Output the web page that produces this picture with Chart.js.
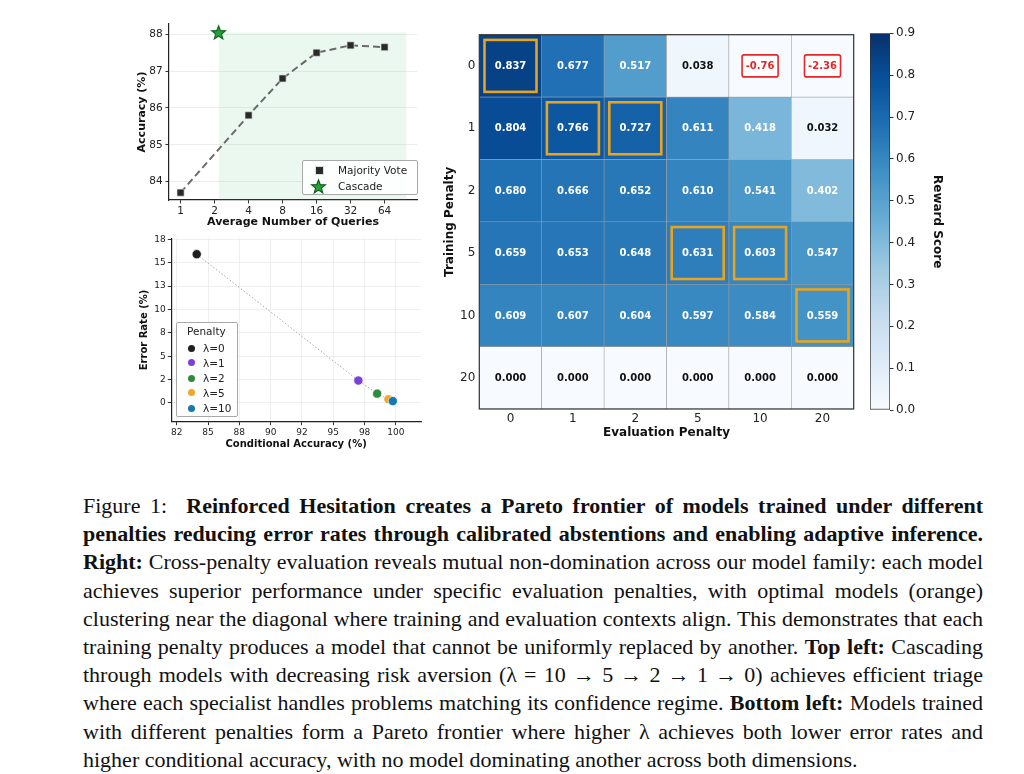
<!DOCTYPE html>
<html>
<head>
<meta charset="utf-8">
<script src="https://cdn.jsdelivr.net/npm/chart.js@4.4.1/dist/chart.umd.min.js"></script>
<style>
html,body{margin:0;padding:0;background:#fff;width:1024px;height:774px;overflow:hidden;}
.cv{position:absolute;display:block;}
.legend{position:absolute;background:rgba(255,255,255,0.9);border:1px solid #a9a9a9;border-radius:2px;box-sizing:border-box;font-family:"DejaVu Sans",sans-serif;color:#222;}
.legend .it{position:absolute;white-space:nowrap;line-height:1;}
.legend .mk{position:absolute;}
.caption{position:absolute;left:83px;top:492px;width:900px;font-family:"Liberation Serif","Times New Roman",serif;font-size:22px;line-height:28.2px;color:#111;}
.caption .ln{white-space:nowrap;height:28.2px;}
</style>
</head>
<body>
<canvas id="c1" class="cv" width="300" height="216" style="left:130px;top:14px;width:300px;height:216px;"></canvas>
<canvas id="c2" class="cv" width="300" height="225" style="left:130px;top:228px;width:300px;height:225px;"></canvas>
<canvas id="c3" class="cv" width="425" height="425" style="left:440px;top:20px;width:425px;height:425px;"></canvas>
<canvas id="c4" class="cv" width="100" height="400" style="left:860px;top:23px;width:100px;height:400px;"></canvas>

<div class="legend" id="lg1" style="left:302px;top:160px;width:116px;height:35px;">
  <div class="mk" style="left:12px;top:5px;width:7px;height:7px;background:#2a2a2a;border:0.5px solid #ddd;"></div>
  <div class="it" style="left:35px;top:3.5px;font-size:10.5px;">Majority Vote</div>
  <div class="mk" id="lgstar" style="left:7px;top:17px;"></div>
  <div class="it" style="left:35px;top:19.5px;font-size:10.5px;">Cascade</div>
</div>

<div class="legend" id="lg2" style="left:176px;top:322px;width:62px;height:95px;">
  <div class="it" style="left:10px;top:3px;font-size:10.5px;">Penalty</div>
  <div class="mk" style="left:11px;top:21.5px;width:7px;height:7px;border-radius:50%;background:#1f1f1f;"></div>
  <div class="it" style="left:26px;top:20px;font-size:10.5px;">λ=0</div>
  <div class="mk" style="left:11px;top:36px;width:7px;height:7px;border-radius:50%;background:#7b3fdb;"></div>
  <div class="it" style="left:26px;top:34.5px;font-size:10.5px;">λ=1</div>
  <div class="mk" style="left:11px;top:51.5px;width:7px;height:7px;border-radius:50%;background:#2e8b3e;"></div>
  <div class="it" style="left:26px;top:50px;font-size:10.5px;">λ=2</div>
  <div class="mk" style="left:11px;top:66px;width:7px;height:7px;border-radius:50%;background:#f0a72a;"></div>
  <div class="it" style="left:26px;top:64.5px;font-size:10.5px;">λ=5</div>
  <div class="mk" style="left:11px;top:81.5px;width:7px;height:7px;border-radius:50%;background:#1677b3;"></div>
  <div class="it" style="left:26px;top:80px;font-size:10.5px;">λ=10</div>
</div>

<div class="caption" id="cap">
  <div class="ln"><span>Figure 1:&nbsp; <b>Reinforced Hesitation creates a Pareto frontier of models trained under different</b></span></div>
  <div class="ln"><span><b>penalties reducing error rates through calibrated abstentions and enabling adaptive inference.</b></span></div>
  <div class="ln"><span><b>Right:</b> Cross-penalty evaluation reveals mutual non-domination across our model family: each model</span></div>
  <div class="ln"><span>achieves superior performance under specific evaluation penalties, with optimal models (orange)</span></div>
  <div class="ln"><span>clustering near the diagonal where training and evaluation contexts align. This demonstrates that each</span></div>
  <div class="ln"><span>training penalty produces a model that cannot be uniformly replaced by another. <b>Top left:</b> Cascading</span></div>
  <div class="ln"><span>through models with decreasing risk aversion (λ = 10 → 5 → 2 → 1 → 0) achieves efficient triage</span></div>
  <div class="ln"><span>where each specialist handles problems matching its confidence regime. <b>Bottom left:</b> Models trained</span></div>
  <div class="ln"><span>with different penalties form a Pareto frontier where higher λ achieves both lower error rates and</span></div>
  <div class="ln last"><span>higher conditional accuracy, with no model dominating another across both dimensions.</span></div>
</div>

<script>
// ---------- DATA ----------
// Top left: accuracy vs. average number of queries
const queries = [1, 4, 8, 16, 32, 64];
const majorityAcc = [83.7, 85.8, 86.8, 87.5, 87.7, 87.65];
const cascadeQueries = [2.17];
const cascadeAcc = [88.05];
const shadeQueries = [2.17, 100];
const shadeTop = [88.05, 88.05];
const queryTicks = [1, 2, 4, 8, 16, 32, 64];
const accTicks = [84, 85, 86, 87, 88];

// Bottom left: Pareto frontier
const penaltyNames = ['λ=0', 'λ=1', 'λ=2', 'λ=5', 'λ=10'];
const condAcc = [84.1, 97.0, 98.5, 99.4, 99.75];
const errRate = [15.9, 2.4, 1.0, 0.4, 0.2];
const condAccTicks = [82.5, 85, 87.5, 90, 92.5, 95, 97.5, 100];
const condAccTickLabels = ['82', '85', '88', '90', '92', '95', '98', '100'];
const errTicks = [0, 2.5, 5, 7.5, 10, 12.5, 15, 17.5];
const errTickLabels = ['0', '2', '5', '8', '10', '13', '15', '18'];

// Right: cross-penalty heatmap
const trainPen = ['0', '1', '2', '5', '10', '20'];
const evalPen = ['0', '1', '2', '5', '10', '20'];
const rewardTrain0 = [0.837, 0.677, 0.517, 0.038, -0.76, -2.36];
const rewardTrain1 = [0.804, 0.766, 0.727, 0.611, 0.418, 0.032];
const rewardTrain2 = [0.680, 0.666, 0.652, 0.610, 0.541, 0.402];
const rewardTrain5 = [0.659, 0.653, 0.648, 0.631, 0.603, 0.547];
const rewardTrain10 = [0.609, 0.607, 0.604, 0.597, 0.584, 0.559];
const rewardTrain20 = [0.000, 0.000, 0.000, 0.000, 0.000, 0.000];
const optimalCells = [['0','0'], ['1','1'], ['1','2'], ['5','5'], ['5','10'], ['10','20']]; // [training, evaluation]
const colorbarTicks = [0.0, 0.1, 0.2, 0.3, 0.4, 0.5, 0.6, 0.7, 0.8, 0.9];
const colorbarRange = [0, 0.9];

// ---------- HELPERS ----------
const FONT = '"DejaVu Sans", sans-serif';
Chart.defaults.font.family = FONT;
Chart.defaults.color = '#222';

const BLUES = [[247,251,255],[222,235,247],[198,219,239],[158,202,225],[107,174,214],[66,146,198],[33,113,181],[8,81,156],[8,48,107]];
function blues(t) {
  t = Math.max(0, Math.min(1, t));
  const p = t * 8, i = Math.min(7, Math.floor(p)), f = p - i;
  const a = BLUES[i], b = BLUES[i + 1];
  return 'rgb(' + [0,1,2].map(k => Math.round(a[k] + (b[k] - a[k]) * f)).join(',') + ')';
}

function makeStar(size) {
  const c = document.createElement('canvas');
  c.width = c.height = size;
  const g = c.getContext('2d');
  const cx = size / 2, cy = size / 2 + 0.6, R = size / 2 - 1.2, r = R * 0.42;
  g.beginPath();
  for (let i = 0; i < 10; i++) {
    const a = -Math.PI / 2 + i * Math.PI / 5, rr = i % 2 ? r : R;
    g.lineTo(cx + rr * Math.cos(a), cy + rr * Math.sin(a));
  }
  g.closePath();
  g.fillStyle = '#27a03a';
  g.fill();
  g.lineWidth = 1.1;
  g.strokeStyle = '#0b5e1b';
  g.stroke();
  return c;
}
const starImg = makeStar(17);
document.getElementById('lgstar').appendChild(makeStar(17));

// ---------- CHART 1: accuracy vs queries ----------
new Chart(document.getElementById('c1'), {
  type: 'line',
  data: {
    datasets: [
      {
        label: 'cascade region',
        data: shadeQueries.map((q, i) => ({x: q, y: shadeTop[i]})),
        fill: 'start',
        backgroundColor: 'rgba(60,190,120,0.11)',
        borderWidth: 0,
        pointRadius: 0,
        order: 10
      },
      {
        label: 'Majority Vote',
        data: queries.map((q, i) => ({x: q, y: majorityAcc[i]})),
        borderColor: '#6a6a6a',
        borderWidth: 2,
        borderDash: [7, 4],
        pointStyle: 'rect',
        pointRadius: 5,
        pointBackgroundColor: '#2a2a2a',
        pointBorderColor: '#dddddd',
        pointBorderWidth: 0.7,
        fill: false,
        order: 2
      },
      {
        label: 'Cascade',
        data: cascadeQueries.map((q, i) => ({x: q, y: cascadeAcc[i]})),
        showLine: false,
        pointStyle: starImg,
        pointRadius: 8,
        clip: false,
        order: 1
      }
    ]
  },
  options: {
    responsive: false, animation: false, events: [],
    layout: {padding: {left: 0, right: 13, top: 10, bottom: 0}},
    plugins: {legend: {display: false}, tooltip: {enabled: false}},
    scales: {
      x: {
        type: 'logarithmic', min: 0.79, max: 124, bounds: 'data',
        afterBuildTicks: s => { s.ticks = queryTicks.map(v => ({value: v})); },
        ticks: {callback: v => String(v), autoSkip: false, maxRotation: 0, font: {size: 10.5}, color: '#222', padding: 1.5},
        grid: {drawOnChartArea: false, drawTicks: true, tickLength: 3.5, tickColor: '#333', tickWidth: 1},
        border: {display: true, color: '#222', width: 1.2},
        title: {display: true, text: 'Average Number of Queries', font: {size: 11, weight: 'bold'}, color: '#111', padding: {top: 0, bottom: 1}},
        afterFit: s => { s.height = 30; }
      },
      y: {
        type: 'linear', min: 83.5, max: 88.28, bounds: 'data',
        afterBuildTicks: s => { s.ticks = accTicks.map(v => ({value: v})); },
        ticks: {callback: v => String(v), font: {size: 10.5}, color: '#222', padding: 2.8},
        grid: {color: '#e8e8e8', lineWidth: 0.8, drawTicks: true, tickLength: 3.5, tickColor: '#333', tickWidth: 1},
        border: {display: true, color: '#222', width: 1.2},
        title: {display: true, text: 'Accuracy (%)', font: {size: 11, weight: 'bold'}, color: '#111', padding: {top: 6, bottom: 0}},
        afterFit: s => { s.width = 39; }
      }
    }
  }
});

// ---------- CHART 2: Pareto frontier ----------
const penaltyColors = ['#1f1f1f', '#7b3fdb', '#2e8b3e', '#f0a72a', '#1677b3'];
const c2sets = [{
  label: 'frontier',
  data: condAcc.map((x, i) => ({x: x, y: errRate[i]})),
  showLine: true,
  borderColor: '#a8a8a8',
  borderWidth: 1,
  borderDash: [1.5, 2],
  pointRadius: 0,
  order: 20
}];
penaltyNames.forEach((n, i) => {
  c2sets.push({
    label: n,
    data: [{x: condAcc[i], y: errRate[i]}],
    backgroundColor: penaltyColors[i],
    borderColor: 'rgba(255,255,255,0.85)',
    borderWidth: 0.8,
    pointRadius: 4.6,
    clip: false,
    order: 10 - i
  });
});
new Chart(document.getElementById('c2'), {
  type: 'scatter',
  data: {datasets: c2sets},
  options: {
    responsive: false, animation: false, events: [],
    layout: {padding: {left: 0, right: 9, top: 10.3, bottom: 0}},
    plugins: {legend: {display: false}, tooltip: {enabled: false}},
    scales: {
      x: {
        type: 'linear', min: 82.07, max: 102.0, bounds: 'data',
        afterBuildTicks: s => { s.ticks = condAccTicks.map(v => ({value: v})); },
        ticks: {callback: v => condAccTickLabels[condAccTicks.indexOf(v)], autoSkip: false, maxRotation: 0, font: {size: 9}, color: '#222', padding: 2},
        grid: {color: '#ebebeb', lineWidth: 0.8, drawTicks: true, tickLength: 3.5, tickColor: '#333', tickWidth: 1},
        border: {display: true, color: '#222', width: 1.2},
        title: {display: true, text: 'Conditional Accuracy (%)', font: {size: 10, weight: 'bold'}, color: '#111', padding: {top: 0, bottom: 3}},
        afterFit: s => { s.height = 31.3; }
      },
      y: {
        type: 'linear', min: -2.0, max: 17.6, bounds: 'data',
        afterBuildTicks: s => { s.ticks = errTicks.map(v => ({value: v})); },
        ticks: {callback: v => errTickLabels[errTicks.indexOf(v)], autoSkip: false, font: {size: 9}, color: '#222', padding: 2},
        grid: {color: '#ebebeb', lineWidth: 0.8, drawTicks: true, tickLength: 3.5, tickColor: '#333', tickWidth: 1},
        border: {display: true, color: '#222', width: 1.2},
        title: {display: true, text: 'Error Rate (%)', font: {size: 10, weight: 'bold'}, color: '#111', padding: {top: 8, bottom: 0}},
        afterFit: s => { s.width = 41.3; }
      }
    }
  }
});

// ---------- CHART 3: heatmap ----------
const rewardRows = [rewardTrain0, rewardTrain1, rewardTrain2, rewardTrain5, rewardTrain10, rewardTrain20];
const vmax = colorbarRange[1];
const heatPlugin = {
  id: 'heatLabels',
  afterDatasetsDraw(chart) {
    const {ctx, chartArea: ca} = chart;
    const xs = chart.scales.x, ys = chart.scales.y;
    const hw = Math.abs(xs.getPixelForValue(1) - xs.getPixelForValue(0)) / 2;
    const hh = Math.abs(ys.getPixelForValue(1) - ys.getPixelForValue(0)) / 2;
    ctx.save();
    // values
    ctx.textAlign = 'center';
    ctx.textBaseline = 'middle';
    ctx.font = 'bold 10px ' + FONT;
    rewardRows.forEach((row, r) => row.forEach((v, c) => {
      const cx = xs.getPixelForValue(c), cy = ys.getPixelForValue(r);
      const txt = v < 0 ? v.toFixed(2) : v.toFixed(3);
      if (v < 0) {
        const w = 36, h = 22;
        ctx.fillStyle = '#ffffff';
        ctx.beginPath();
        ctx.roundRect(cx - w / 2, cy - h / 2, w, h, 2);
        ctx.fill();
        ctx.lineWidth = 1.6;
        ctx.strokeStyle = '#e3262b';
        ctx.stroke();
        ctx.fillStyle = '#e3262b';
      } else {
        ctx.fillStyle = v / vmax > 0.3 ? '#ffffff' : '#111111';
      }
      ctx.fillText(txt, cx, cy + 0.5);
    }));
    // optimal boxes
    ctx.strokeStyle = '#e8a320';
    ctx.lineWidth = 2.6;
    optimalCells.forEach(([t, e]) => {
      const r = trainPen.indexOf(t), c = evalPen.indexOf(e);
      const cx = xs.getPixelForValue(c), cy = ys.getPixelForValue(r);
      const ins = 5.2;
      ctx.strokeRect(cx - hw + ins, cy - hh + ins, 2 * hw - 2 * ins, 2 * hh - 2 * ins);
    });
    // outer frame
    ctx.strokeStyle = '#333';
    ctx.lineWidth = 1.2;
    ctx.strokeRect(ca.left, ca.top, ca.right - ca.left, ca.bottom - ca.top);
    ctx.restore();
  }
};
new Chart(document.getElementById('c3'), {
  type: 'bar',
  data: {
    labels: evalPen,
    datasets: rewardRows.map((row, r) => ({
      label: 'Training ' + trainPen[r],
      data: row.map(() => [r - 0.5, r + 0.5]),
      backgroundColor: row.map(v => blues(v / vmax)),
      borderColor: '#9a9a9a',
      borderWidth: 0.6,
      borderSkipped: false,
      barPercentage: 1,
      categoryPercentage: 1,
      grouped: false
    }))
  },
  options: {
    responsive: false, animation: false, events: [],
    layout: {padding: {left: 0, right: 11.3, top: 14.7, bottom: 0}},
    plugins: {legend: {display: false}, tooltip: {enabled: false}},
    scales: {
      x: {
        type: 'category',
        grid: {display: false, drawTicks: false, tickLength: 0}, border: {display: false},
        ticks: {font: {size: 12}, color: '#222', padding: 3, maxRotation: 0, autoSkip: false},
        title: {display: true, text: 'Evaluation Penalty', font: {size: 12, weight: 'bold'}, color: '#111', padding: {top: 0, bottom: 5.4}},
        afterFit: s => { s.height = 36; }
      },
      y: {
        type: 'linear', reverse: true, min: -0.5, max: 5.5, bounds: 'data',
        afterBuildTicks: s => { s.ticks = trainPen.map((_, i) => ({value: i})); },
        ticks: {callback: v => trainPen[v], font: {size: 12}, color: '#222', padding: 4, autoSkip: false},
        grid: {display: false, drawTicks: false, tickLength: 0}, border: {display: false},
        title: {display: true, text: 'Training Penalty', font: {size: 12, weight: 'bold'}, color: '#111', padding: {top: 3, bottom: 0}},
        afterFit: s => { s.width = 39.3; }
      }
    }
  },
  plugins: [heatPlugin]
});

// ---------- CHART 4: colorbar ----------
new Chart(document.getElementById('c4'), {
  type: 'bar',
  data: {
    labels: ['Reward Score'],
    datasets: [{
      data: [colorbarRange],
      backgroundColor: ctx => {
        const ca = ctx.chart.chartArea;
        if (!ca) return blues(0.5);
        const g = ctx.chart.ctx.createLinearGradient(0, ca.bottom, 0, ca.top);
        BLUES.forEach((c, i) => g.addColorStop(i / 8, 'rgb(' + c.join(',') + ')'));
        return g;
      },
      borderColor: '#333',
      borderWidth: 1,
      borderSkipped: false,
      barPercentage: 1,
      categoryPercentage: 1
    }]
  },
  options: {
    responsive: false, animation: false, events: [],
    layout: {padding: {left: 10, right: 0, top: 10.3, bottom: 13}},
    plugins: {legend: {display: false}, tooltip: {enabled: false}},
    scales: {
      x: {display: false},
      y: {
        position: 'right', min: colorbarRange[0], max: colorbarRange[1], bounds: 'data',
        afterBuildTicks: s => { s.ticks = colorbarTicks.map(v => ({value: v})); },
        ticks: {callback: v => v.toFixed(1), font: {size: 12}, color: '#222', padding: 2.5, autoSkip: false},
        grid: {display: true, drawOnChartArea: false, drawTicks: true, tickLength: 3.5, tickColor: '#333', tickWidth: 1},
        border: {display: false},
        title: {display: true, text: 'Reward Score', font: {size: 12, weight: 'bold'}, color: '#111', padding: {top: 16, bottom: 0}},
        afterFit: s => { s.width = 70; }
      }
    }
  }
});

// ---------- caption justification ----------
function justify() {
  document.querySelectorAll('#cap .ln').forEach(div => {
    const span = div.querySelector('span');
    span.style.wordSpacing = '0px';
    if (div.classList.contains('last')) return;
    const w = span.getBoundingClientRect().width;
    const n = (span.textContent.match(/[ \u00a0]/g) || []).length;
    if (n > 0) span.style.wordSpacing = ((900 - w) / n) + 'px';
  });
}
justify();
if (document.fonts && document.fonts.ready) document.fonts.ready.then(justify);
</script>
</body>
</html>
